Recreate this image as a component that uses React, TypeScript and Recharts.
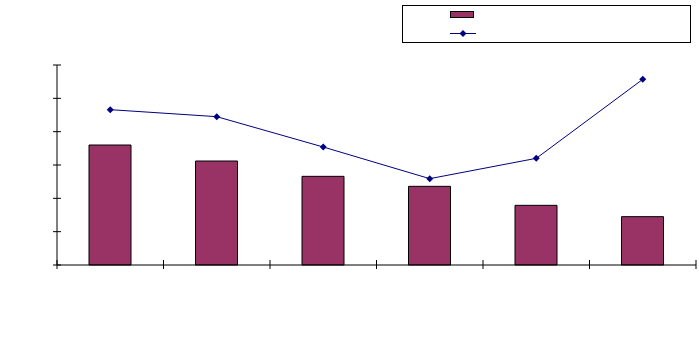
import { ComposedChart, Bar, Line, XAxis, YAxis } from "recharts";

const categories = ["1", "2", "3", "4", "5", "6"];
const barValues = [3.6, 3.12, 2.66, 2.36, 1.79, 1.45];
const lineValues = [4.66, 4.45, 3.54, 2.59, 3.2, 5.57];
const yTicks = [0, 1, 2, 3, 4, 5, 6];

const BAR_COLOR = "#993366";
const LINE_COLOR = "#000080";

const data = categories.map((c, i) => ({
  name: c,
  bar: barValues[i],
  line: lineValues[i],
}));

const WIDTH = 699;
const HEIGHT = 345;
const MARGIN = { top: 65, right: 3, bottom: 79, left: 56 };
const BAND = (WIDTH - MARGIN.left - 1 - MARGIN.right) / categories.length;

function YTick(props: any) {
  const { x, y } = props;
  return <line x1={x - 4} x2={x + 4} y1={y} y2={y} stroke="#000" strokeWidth={1} />;
}

function XTick(props: any) {
  const { x, y, index } = props;
  const left = x - BAND / 2;
  return (
    <g>
      <line x1={left} x2={left} y1={y - 5} y2={y + 4} stroke="#000" strokeWidth={1} />
      {index === categories.length - 1 && (
        <line x1={x + BAND / 2} x2={x + BAND / 2} y1={y - 5} y2={y + 4} stroke="#000" strokeWidth={1} />
      )}
    </g>
  );
}

function diamondPoints(cx: number, cy: number, r: number) {
  return `${cx},${cy - r} ${cx + r},${cy} ${cx},${cy + r} ${cx - r},${cy}`;
}

function Diamond(props: any) {
  const { cx, cy, index } = props;
  return <polygon key={index} points={diamondPoints(cx, cy, 3.5)} fill={LINE_COLOR} />;
}

function LegendBox() {
  return (
    <div
      style={{
        position: "absolute",
        left: 402,
        top: 5,
        width: 287,
        height: 36,
        border: "1px solid #000",
        background: "#fff",
      }}
    >
      <svg width={287} height={36} style={{ position: "absolute", left: 0, top: 0 }}>
        <rect x={47.5} y={5.5} width={23} height={6} fill={BAR_COLOR} stroke="#000" strokeWidth={1} />
        <line x1={47} x2={73} y1={27.5} y2={27.5} stroke={LINE_COLOR} strokeWidth={1} />
        <polygon points={diamondPoints(60, 27.5, 3.5)} fill={LINE_COLOR} />
      </svg>
    </div>
  );
}

export default function App() {
  return (
    <div style={{ position: "absolute", left: 0, top: 0, width: WIDTH, height: HEIGHT, background: "#fff" }}>
      <ComposedChart width={WIDTH} height={HEIGHT} data={data} margin={MARGIN}>
        <XAxis
          dataKey="name"
          height={1}
          tickLine={false}
          tick={<XTick />}
          tickSize={0}
          tickMargin={0}
          stroke="#000"
          interval={0}
        />
        <YAxis
          width={1}
          domain={[0, 6]}
          ticks={yTicks}
          tickLine={false}
          tickSize={0}
          tickMargin={0}
          tick={<YTick />}
          stroke="#000"
        />
        <Bar
          dataKey="bar"
          name="bar"
          fill={BAR_COLOR}
          stroke="#000"
          strokeWidth={1}
          barSize={42}
          isAnimationActive={false}
        />
        <Line
          dataKey="line"
          name="line"
          stroke={LINE_COLOR}
          strokeWidth={1}
          dot={<Diamond />}
          activeDot={false}
          isAnimationActive={false}
        />
      </ComposedChart>
      <LegendBox />
    </div>
  );
}
